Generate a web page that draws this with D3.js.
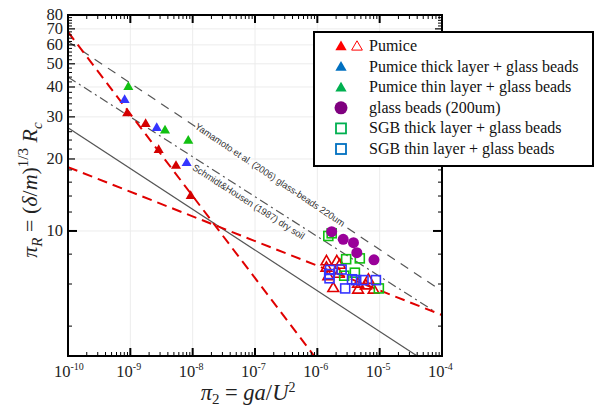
<!DOCTYPE html>
<html><head><meta charset="utf-8">
<script src="https://cdn.jsdelivr.net/npm/d3@7"></script>
<style>body{margin:0;background:#fff}svg{display:block}
.serif{font-family:"Liberation Serif","Times New Roman",Times,"DejaVu Serif",serif}
.sans{font-family:"Liberation Sans",Arial,sans-serif}</style>
</head><body><svg id="c" width="595" height="406"></svg>
<script>
// ---------- data ----------
const pumiceFilled = [[8.9e-10,31],[1.76e-9,28],[2.85e-9,21.8],[5.4e-9,18.7],[9.3e-9,14]];
const pumiceOpen = [[1.4e-6,7.44],[2.05e-6,7.44],[2.3e-6,7.2],[1.4e-6,7.0],[1.5e-6,6.45],[1.8e-6,5.75],
                    [4.5e-6,5.66],[4.5e-6,6.0],[6.6e-6,6.23],[8.0e-6,5.66],[2.2e-6,6.6],[6.0e-6,5.9]];
const pumiceThick = [[8.1e-10,35.3],[2.65e-9,26.9],[8.0e-9,19.2]];
const pumiceThin = [[9.3e-10,40],[3.6e-9,26.3],[8.5e-9,23.8]];
const glassBeads = [[1.70e-6,9.93],[2.6e-6,9.23],[3.8e-6,8.93],[4.3e-6,8.11],[8.1e-6,7.57]];
const sgbThick = [[1.5e-6,9.53],[1.7e-6,9.78],[2.9e-6,7.62],[4.8e-6,7.68],[4.0e-6,6.69],[2.7e-6,6.5],[9.7e-6,5.75]];
const sgbThin = [[1.6e-6,6.87],[2.45e-6,6.9],[1.57e-6,6.34],[1.55e-6,6.6],[3.6e-6,6.28],[4.2e-6,6.23],
                 [5.5e-6,6.23],[8.7e-6,6.23],[2.8e-6,5.75]];

const fitSteep = [[1e-10,68],[8.9e-7,3]];
const fitShallow = [[1e-10,18.5],[1e-4,4.45]];
const refSolid = [[1e-10,27],[4e-5,3]];
const schmidtHousen = [[1e-10,44],[7e-5,4.67]];
const yamamoto = [[1e-10,62],[1e-4,5.6]];

const xTickValues = [1e-10,1e-9,1e-8,1e-7,1e-6,1e-5,1e-4];
const xTickExps = ["-10","-9","-8","-7","-6","-5","-4"];
const yTickLabels = [10,20,30,40,50,60,70,80];
const yMinorTicks = [4,6,8,12,14,16,18,22,24,26,28,32,34,36,38,42,44,46,48,52,54,56,58,62,64,66,68,72,74,76,78];

const legendLabels = ["Pumice","Pumice thick layer + glass beads","Pumice thin layer + glass beads",
  "glass beads (200um)","SGB thick layer + glass beads","SGB thin layer + glass beads"];

// annotation: start x (data) along a reference line
const annYamamoto = {x0:1.1e-8, text:"Yamamoto et al. (2006) glass-beads 220um"};
const annSchmidt = {x0:1.2e-8, text:"Schmidt&Housen (1987) dry soil"};

// ---------- layout ----------
const L = 68, R = 442, T = 15, B = 356;
const svg = d3.select("#c");
svg.append("rect").attr("width",595).attr("height",406).attr("fill","#fff");
const x = d3.scaleLog().domain([1e-10,1e-4]).range([L,R]);
const y = d3.scaleLog().domain([3,80]).range([B,T]);

const RED="#e00000", BLUE="#3535ff", GREEN="#12c012", PURPLE="#990099";

svg.append("clipPath").attr("id","clip").append("rect")
  .attr("x",L).attr("y",T).attr("width",R-L).attr("height",B-T);

// grid
const grid = svg.append("g").attr("stroke","#ececec").attr("stroke-width",1);
xTickValues.forEach(v=>grid.append("line").attr("x1",x(v)).attr("x2",x(v)).attr("y1",T).attr("y2",B));
yTickLabels.forEach(v=>grid.append("line").attr("x1",L).attr("x2",R).attr("y1",y(v)).attr("y2",y(v)));

// lines
const lg = svg.append("g").attr("clip-path","url(#clip)").attr("fill","none");
const line = d3.line().x(d=>x(d[0])).y(d=>y(d[1]));
lg.append("path").datum(yamamoto).attr("d",line).attr("stroke","#555").attr("stroke-width",1.2).attr("stroke-dasharray","9,7");
lg.append("path").datum(schmidtHousen).attr("d",line).attr("stroke","#555").attr("stroke-width",1.2).attr("stroke-dasharray","9,4,2,4");
lg.append("path").datum(refSolid).attr("d",line).attr("stroke","#555").attr("stroke-width",1.2);
lg.append("path").datum(fitSteep).attr("d",line).attr("stroke",RED).attr("stroke-width",2).attr("stroke-dasharray","10,6");
lg.append("path").datum(fitShallow).attr("d",line).attr("stroke",RED).attr("stroke-width",2).attr("stroke-dasharray","10,6");

// annotations placed along their reference lines
function ann(a, ln, len, offset, halo){
  const [p1,p2] = ln;
  const ang = Math.atan2(y(p2[1])-y(p1[1]), x(p2[0])-x(p1[0]));
  const t = Math.log(a.x0/p1[0])/Math.log(p2[0]/p1[0]);
  const yv = Math.exp(Math.log(p1[1]) + t*(Math.log(p2[1])-Math.log(p1[1])));
  const px = x(a.x0), py = y(yv);
  const el = svg.append("text").attr("class","sans")
    .attr("transform",`translate(${px},${py}) rotate(${ang*180/Math.PI}) translate(0,${offset})`)
    .attr("font-size",9.5).attr("fill","#333")
    .attr("textLength",len).attr("lengthAdjust","spacingAndGlyphs")
    .text(a.text);
  if (halo) el.attr("stroke","#fff").attr("stroke-width",3).attr("paint-order","stroke");
}
ann(annYamamoto, yamamoto, 178, 2, true);
ann(annSchmidt, schmidtHousen, 131, 11, false);

// markers
const tri = d3.symbol().type(d3.symbolTriangle);
const mg = svg.append("g");
mg.selectAll(".po").data(pumiceOpen).join("path").attr("d",tri.size(50)())
  .attr("transform",d=>`translate(${x(d[0])},${y(d[1])})`).attr("fill","none").attr("stroke",RED).attr("stroke-width",1.6);
mg.selectAll(".sq1").data(sgbThick).join("rect").attr("x",d=>x(d[0])-4.5).attr("y",d=>y(d[1])-4.5)
  .attr("width",9).attr("height",9).attr("fill","none").attr("stroke",GREEN).attr("stroke-width",1.6);
mg.selectAll(".gb").data(glassBeads).join("circle").attr("cx",d=>x(d[0])).attr("cy",d=>y(d[1])).attr("r",5.5).attr("fill",PURPLE);
mg.selectAll(".sq2").data(sgbThin).join("rect").attr("x",d=>x(d[0])-4.5).attr("y",d=>y(d[1])-4.5)
  .attr("width",9).attr("height",9).attr("fill","none").attr("stroke",BLUE).attr("stroke-width",1.6);
mg.selectAll(".pf").data(pumiceFilled).join("path").attr("d",tri.size(44)())
  .attr("transform",d=>`translate(${x(d[0])},${y(d[1])})`).attr("fill","#d40000");
mg.selectAll(".pt").data(pumiceThick).join("path").attr("d",tri.size(44)())
  .attr("transform",d=>`translate(${x(d[0])},${y(d[1])})`).attr("fill",BLUE);
mg.selectAll(".pn").data(pumiceThin).join("path").attr("d",tri.size(44)())
  .attr("transform",d=>`translate(${x(d[0])},${y(d[1])})`).attr("fill",GREEN);

// axes frame and ticks
const ax = svg.append("g").attr("stroke","#000");
const xMinor = [];
for (let e=-10;e<-4;e++) for (let k=2;k<10;k++) xMinor.push(k*Math.pow(10,e));
xMinor.forEach(v=>{
  ax.append("line").attr("x1",x(v)).attr("x2",x(v)).attr("y1",B).attr("y2",B-4).attr("stroke-width",1);
  ax.append("line").attr("x1",x(v)).attr("x2",x(v)).attr("y1",T).attr("y2",T+4).attr("stroke-width",1);
});
xTickValues.forEach(v=>{
  ax.append("line").attr("x1",x(v)).attr("x2",x(v)).attr("y1",B).attr("y2",B-8).attr("stroke-width",2);
  ax.append("line").attr("x1",x(v)).attr("x2",x(v)).attr("y1",T).attr("y2",T+8).attr("stroke-width",2);
});
yMinorTicks.forEach(v=>{
  ax.append("line").attr("x1",L).attr("x2",L+4).attr("y1",y(v)).attr("y2",y(v)).attr("stroke-width",1);
  ax.append("line").attr("x1",R).attr("x2",R-4).attr("y1",y(v)).attr("y2",y(v)).attr("stroke-width",1);
});
yTickLabels.forEach(v=>{
  const len = v===10?9:7;
  ax.append("line").attr("x1",L).attr("x2",L+len).attr("y1",y(v)).attr("y2",y(v)).attr("stroke-width",v===10?2:1.2);
  ax.append("line").attr("x1",R).attr("x2",R-len).attr("y1",y(v)).attr("y2",y(v)).attr("stroke-width",v===10?2:1.2);
});
ax.append("rect").attr("x",L).attr("y",T).attr("width",R-L).attr("height",B-T).attr("fill","none").attr("stroke-width",2);

// tick labels
const tl = svg.append("g").attr("class","serif").attr("fill","#222");
xTickValues.forEach((v,i)=>{
  const t = tl.append("text").attr("x",x(v)-14).attr("y",377).attr("font-size",16.5);
  t.append("tspan").text("10");
  t.append("tspan").attr("dy",-7).attr("font-size",10).text(xTickExps[i]);
});
yTickLabels.forEach(v=>{
  tl.append("text").attr("x",L-5).attr("y",y(v)+5).attr("text-anchor","end").attr("font-size",16.5).text(v);
});

// axis titles
const xt = svg.append("text").attr("class","serif").attr("x",248).attr("y",400).attr("text-anchor","middle")
  .attr("font-size",22.5).attr("fill","#222");
xt.append("tspan").attr("font-style","italic").text("π");
xt.append("tspan").attr("dy",4).attr("font-size",15).text("2");
xt.append("tspan").attr("dy",-4).text(" = ");
xt.append("tspan").attr("font-style","italic").text("ga");
xt.append("tspan").text("/");
xt.append("tspan").attr("font-style","italic").text("U");
xt.append("tspan").attr("dy",-8).attr("font-size",14).text("2");

const yt = svg.append("text").attr("class","serif").attr("transform","translate(37,190) rotate(-90)").attr("text-anchor","middle")
  .attr("font-size",22).attr("fill","#222");
yt.append("tspan").attr("font-style","italic").text("π");
yt.append("tspan").attr("dy",5).attr("font-size",15).attr("font-style","italic").text("R");
yt.append("tspan").attr("dy",-5).text(" = (");
yt.append("tspan").attr("font-style","italic").text("δ");
yt.append("tspan").text("/");
yt.append("tspan").attr("font-style","italic").text("m");
yt.append("tspan").text(")");
yt.append("tspan").attr("dy",-9).attr("font-size",15).text("1/3");
yt.append("tspan").attr("dy",9).attr("font-style","italic").text(" R");
yt.append("tspan").attr("dy",5).attr("font-size",15).attr("font-style","italic").text("c");

// legend
const lgd = svg.append("g");
lgd.append("rect").attr("x",314).attr("y",32).attr("width",279).attr("height",134)
  .attr("fill","#fff").attr("stroke","#000").attr("stroke-width",2);
const rowY = i=>46+i*20.6;
const LR="#ff0000", LB="#0070c0", LG="#00b050", LP="#7f007f";
lgd.append("path").attr("d",tri.size(55)()).attr("transform",`translate(341,${rowY(0)+1})`).attr("fill",LR);
lgd.append("path").attr("d",tri.size(50)()).attr("transform",`translate(357,${rowY(0)+1})`).attr("fill","none").attr("stroke",LR).attr("stroke-width",1);
lgd.append("path").attr("d",tri.size(55)()).attr("transform",`translate(341,${rowY(1)+1})`).attr("fill",LB);
lgd.append("path").attr("d",tri.size(55)()).attr("transform",`translate(341,${rowY(2)+1})`).attr("fill",LG);
lgd.append("circle").attr("cx",341).attr("cy",rowY(3)).attr("r",6.5).attr("fill",LP);
lgd.append("rect").attr("x",336).attr("y",rowY(4)-5).attr("width",10).attr("height",10).attr("fill","none").attr("stroke",LG).attr("stroke-width",1.8);
lgd.append("rect").attr("x",336).attr("y",rowY(5)-5).attr("width",10).attr("height",10).attr("fill","none").attr("stroke",LB).attr("stroke-width",1.8);
legendLabels.forEach((s,i)=>{
  lgd.append("text").attr("class","serif").attr("x",369).attr("y",rowY(i)+5)
    .attr("font-size",16).attr("fill","#111").text(s);
});
</script></body></html>
